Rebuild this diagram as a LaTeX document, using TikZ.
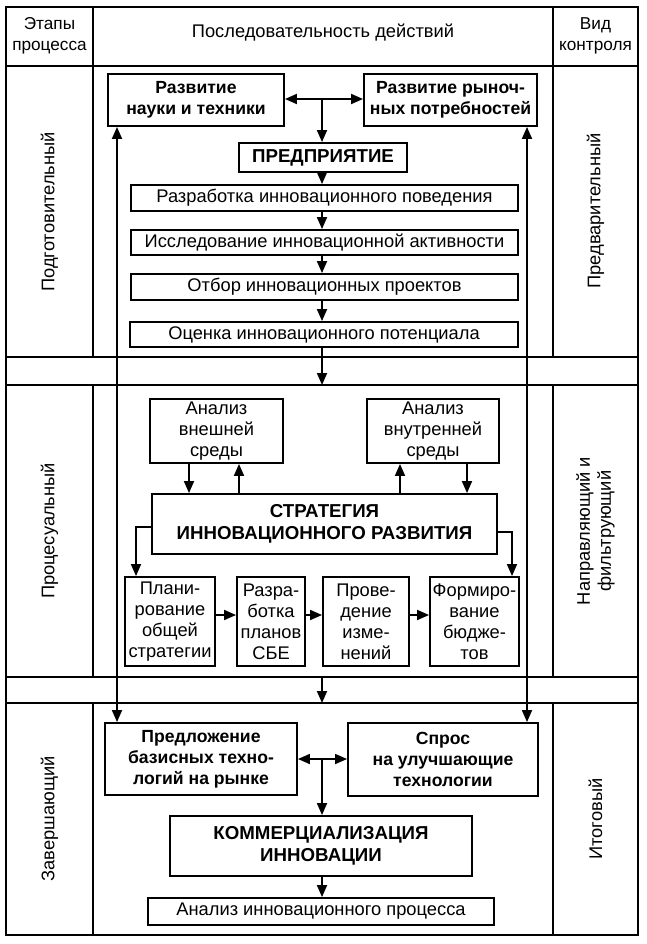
\documentclass[tikz,border=0pt]{standalone}
\usepackage{fontspec}
\setmainfont{Liberation Sans}
\usetikzlibrary{arrows.meta,calc}
\newcommand{\dfont}{\fontsize{18.3}{21}\selectfont}
\newcommand{\hfont}{\fontsize{17.2}{21}\selectfont}
\newcommand{\bfont}{\fontsize{17.6}{21}\selectfont\bfseries}
\newcommand{\cfont}{\fontsize{18.7}{22}\selectfont\bfseries}
\begin{document}
\begin{tikzpicture}[x=1pt,y=-1pt,
  box/.style={draw,line width=1.9pt,align=center,inner sep=0pt,font=\dfont},
  bbox/.style={box,font=\bfont},
  cbox/.style={box,font=\cfont},
  lab/.style={align=center,inner sep=0pt,font=\dfont},
  frame/.style={line width=2.3pt},
  arr/.style={-{Triangle[length=12pt,width=10pt]},line width=1.8pt},
  darr/.style={{Triangle[length=12pt,width=10pt]}-{Triangle[length=12pt,width=10pt]},line width=1.8pt}
]
\useasboundingbox (0,0) rectangle (647,944);
% frame
\draw[frame] (6,7) rectangle (638,935);
\draw[frame] (6,66) -- (638,66);
\draw[frame] (6,357) -- (638,357);
\draw[frame] (6,385) -- (638,385);
\draw[frame] (6,677) -- (638,677);
\draw[frame] (6,703) -- (638,703);
\foreach \xx in {93,553}{
  \draw[frame] (\xx,7) -- (\xx,357);
  \draw[frame] (\xx,385) -- (\xx,677);
  \draw[frame] (\xx,703) -- (\xx,935);
}
% header
\node[lab,font=\hfont] (h1) at (49.5,36) {Этапы\\процесса};
\node[lab] (h2) at (323,33) {Последовательность действий};
\node[lab,font=\hfont] (h3) at (595.5,36) {Вид\\контроля};
% side labels
\node[lab,rotate=90] (s1) at (49.5,212) {Подготовительный};
\node[lab,rotate=90] (s2) at (49.5,531) {Процесуальный};
\node[lab,rotate=90] (s3) at (49.5,819) {Завершающий};
\node[lab,rotate=90] (c1) at (595.5,211) {Предварительный};
\node[lab,rotate=90] (c2) at (595.5,531) {Направляющий и\\фильтрующий};
\node[lab,rotate=90] (c3) at (595.5,819) {Итоговый};
% top section
\node[bbox,minimum width=176pt,minimum height=52pt] (nauka) at (196,100) {Развитие\\науки и техники};
\node[bbox,minimum width=173pt,minimum height=52pt] (rynok) at (450.5,100) {Развитие рыноч-\\ных потребностей};
\node[cbox,minimum width=168pt,minimum height=29pt] (pred) at (323,157.5) {ПРЕДПРИЯТИЕ};
\node[box,minimum width=387pt,minimum height=26pt] (r1) at (324.5,198) {Разработка инновационного поведения};
\node[box,minimum width=387pt,minimum height=25pt] (r2) at (324.5,242.5) {Исследование инновационной активности};
\node[box,minimum width=387pt,minimum height=26pt] (r3) at (324.5,287) {Отбор инновационных проектов};
\node[box,minimum width=388pt,minimum height=25pt] (r4) at (324,334.5) {Оценка инновационного потенциала};
% middle section
\node[box,minimum width=133pt,minimum height=64pt] (vnesh) at (216.5,431) {Анализ\\внешней\\среды};
\node[box,minimum width=132pt,minimum height=64pt] (vnutr) at (433,431) {Анализ\\внутренней\\среды};
\node[cbox,minimum width=345pt,minimum height=60pt] (strat) at (324.5,524) {СТРАТЕГИЯ\\ИННОВАЦИОННОГО РАЗВИТИЯ};
\node[box,minimum width=90pt,minimum height=89pt] (plan) at (170,621.5) {Плани-\\рование\\общей\\стратегии};
\node[box,minimum width=68pt,minimum height=89pt] (sbe) at (271,621.5) {Разра-\\ботка\\планов\\СБЕ};
\node[box,minimum width=86pt,minimum height=89pt] (prov) at (366,621.5) {Прове-\\дение\\изме-\\нений};
\node[box,minimum width=89pt,minimum height=89pt] (form) at (474.5,621.5) {Формиро-\\вание\\бюдже-\\тов};
% bottom section
\node[bbox,minimum width=192pt,minimum height=72pt] (predl) at (201,759) {Предложение\\базисных техно-\\логий на рынке};
\node[bbox,minimum width=190pt,minimum height=73pt] (spros) at (443,759.5) {Спрос\\на улучшающие\\технологии};
\node[cbox,minimum width=302pt,minimum height=60pt] (komm) at (321,846) {КОММЕРЦИАЛИЗАЦИЯ\\ИННОВАЦИИ};
\node[box,minimum width=346pt,minimum height=27pt] (analiz) at (321,911.5) {Анализ инновационного процесса};
% coordinates
\coordinate (j1) at (322,99);
\coordinate (j2) at (322,759);
\coordinate (L) at (117,0);
\coordinate (R) at (527,0);
\coordinate (b1) at (322,385);
\coordinate (b2t) at (322,677);
\coordinate (b2b) at (322,703);
\coordinate (a1) at (189,0);
\coordinate (a2) at (239,0);
\coordinate (a3) at (400,0);
\coordinate (a4) at (467,0);
\coordinate (sl) at (136,527);
\coordinate (sr) at (512,532);
\coordinate (hy) at (0,615);
% top connectors
\draw[darr] (nauka.east |- j1) -- (rynok.west |- j1);
\draw[arr] (j1) -- (pred.north -| j1);
\draw[arr] (pred.south -| j1) -- (r1.north -| j1);
\draw[arr] (r1.south -| j1) -- (r2.north -| j1);
\draw[arr] (r2.south -| j1) -- (r3.north -| j1);
\draw[arr] (r3.south -| j1) -- (r4.north -| j1);
\draw[arr] (r4.south -| j1) -- (b1);
\draw[darr] (predl.north -| L) -- (nauka.south -| L);
\draw[darr] (spros.north -| R) -- (rynok.south -| R);
% middle connectors
\draw[arr] (vnesh.south -| a1) -- (strat.north -| a1);
\draw[arr] (strat.north -| a2) -- (vnesh.south -| a2);
\draw[arr] (strat.north -| a3) -- (vnutr.south -| a3);
\draw[arr] (vnutr.south -| a4) -- (strat.north -| a4);
\draw[arr] (strat.west |- sl) -- (sl) -- (plan.north -| sl);
\draw[arr] (strat.east |- sr) -- (sr) -- (form.north -| sr);
\draw[arr] (plan.east |- hy) -- (sbe.west |- hy);
\draw[arr] (sbe.east |- hy) -- (prov.west |- hy);
\draw[arr] (prov.east |- hy) -- (form.west |- hy);
\draw[arr] (b2t) -- (b2b);
% bottom connectors
\draw[darr] (predl.east |- j2) -- (spros.west |- j2);
\draw[arr] (j2) -- (komm.north -| j2);
\draw[arr] (komm.south -| j2) -- (analiz.north -| j2);
\end{tikzpicture}
\end{document}
